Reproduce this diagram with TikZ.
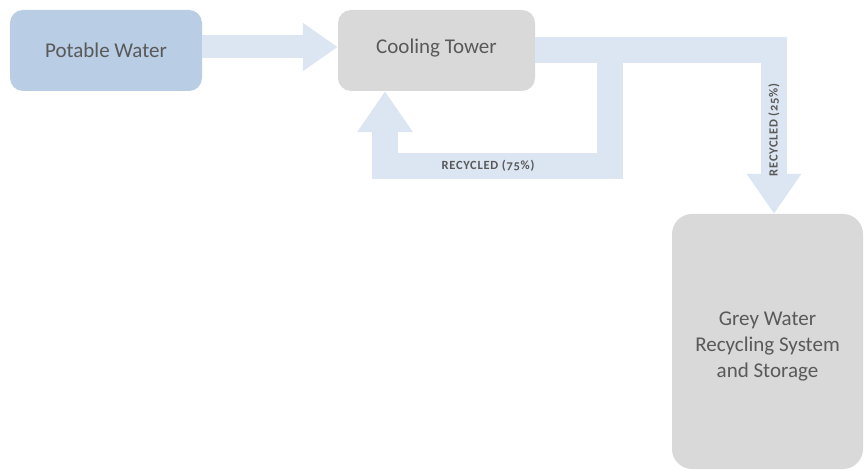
\documentclass[tikz,border=0pt]{standalone}
\usepackage{fontspec}
\setmainfont{Carlito}
\usetikzlibrary{arrows.meta}

\definecolor{potblue}{HTML}{B9CDE5}
\definecolor{boxgrey}{HTML}{D9D9D9}
\definecolor{flowblue}{HTML}{DCE6F2}
\definecolor{txtgrey}{HTML}{595959}

\begin{document}
\begin{tikzpicture}[x=1pt,y=-1pt,
  box/.style={rounded corners=13pt, inner sep=0pt, text=txtgrey,
    font=\fontsize{21}{26}\selectfont, align=center},
  flow/.style={draw=flowblue, line width=26pt, line join=miter},
  flowtag/.style={text=txtgrey, inner sep=0pt,
    font=\bfseries\fontsize{12.5}{14}\selectfont\addfontfeatures{Numbers=OldStyle,LetterSpace=6}}]
  \useasboundingbox (0,0) rectangle (864,470);

  % boxes
  \node[box, fill=potblue, minimum width=192pt, minimum height=81pt] (potable) at (106,50.5) {Potable Water};
  \node[box, fill=boxgrey, minimum width=197pt, minimum height=81pt, text depth=9pt] (tower) at (436.5,50.5) {Cooling Tower};
  \node[box, fill=boxgrey, rounded corners=20pt, minimum width=191pt, minimum height=255pt] (grey) at (767.5,341.5) {};
  \node[box] (greytext) at ([yshift=-5pt]grey.center) {Grey Water\\Recycling System\\and Storage};

  % flows
  \coordinate (inlet) at ([yshift=3.5pt]potable.east);
  \draw[flow, line width=23pt, -{Triangle[width=46pt,length=35pt]}] (inlet) -- (inlet -| tower.west);

  \coordinate (drop) at ([xshift=6.5pt]grey.north);
  \draw[flow, -{Triangle[width=52pt,length=40pt]}] (tower.east) -| (drop);

  \coordinate (split) at ([xshift=75pt]tower.east);
  \coordinate (turn) at ([yshift=-116pt]split);
  \coordinate (rise) at ([xshift=-51.5pt]tower.south);
  \draw[flow, -{Triangle[width=53pt,length=41pt]}] (split) -- (turn) -| (rise);

  \node[flowtag] (tag75) at (488,166) {RECYCLED (75\%)};
  \node[flowtag, rotate=90] (tag25) at (774,130) {RECYCLED (25\%)};
\end{tikzpicture}
\end{document}
